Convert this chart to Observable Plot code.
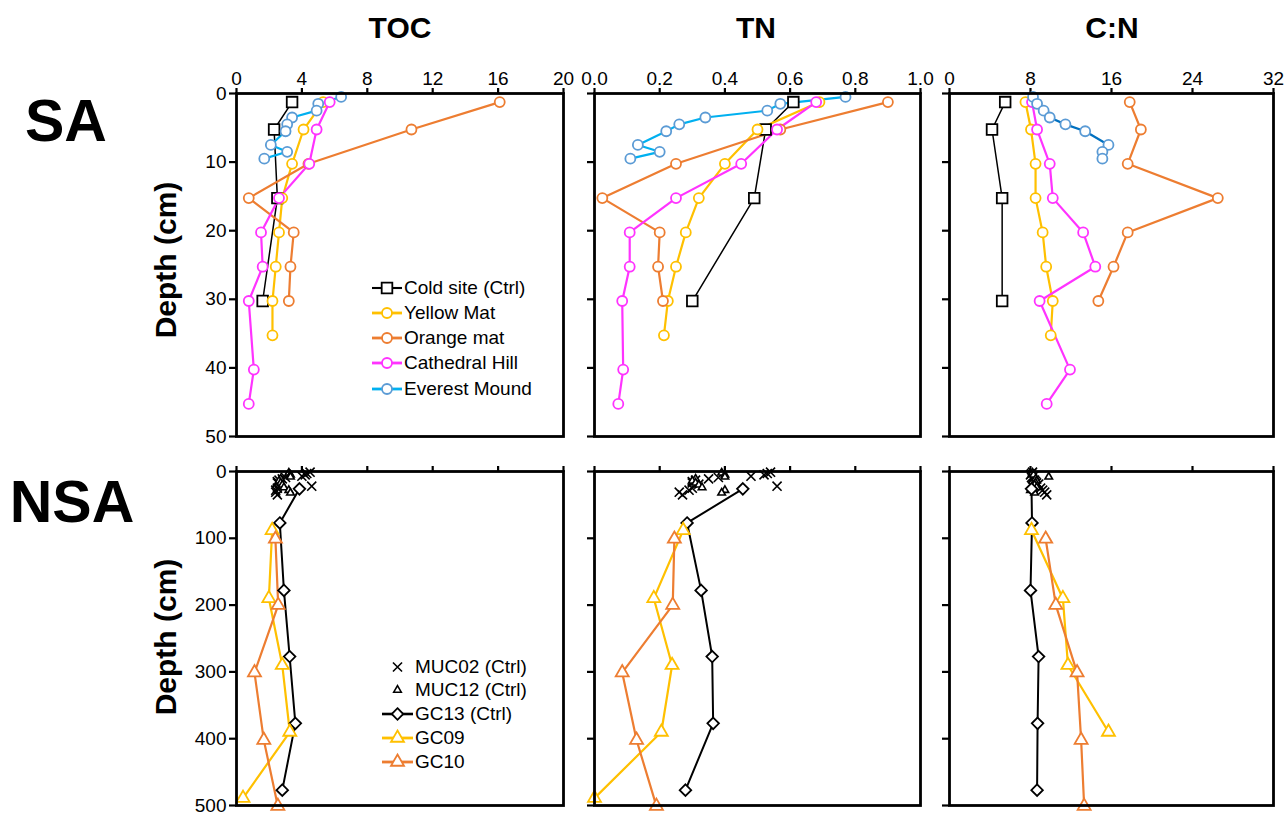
<!DOCTYPE html>
<html><head><meta charset="utf-8">
<script src="https://cdn.jsdelivr.net/npm/d3@7"></script>
<script src="https://cdn.jsdelivr.net/npm/@observablehq/plot@0.6"></script>
<style>
html,body{margin:0;padding:0;background:#fff;}
#root{position:relative;width:1284px;height:817px;overflow:hidden;font-family:"Liberation Sans",Arial,Helvetica,sans-serif;color:#000;}
.abs{position:absolute;white-space:nowrap;}
.head{font-weight:bold;font-size:30px;transform:translate(-50%,-50%);}
.rowlab{font-weight:bold;font-size:59px;transform:translate(-50%,-50%);}
.ylab{font-weight:bold;font-size:30px;transform:translate(-50%,-50%) rotate(-90deg);}
.leg{display:flex;align-items:center;font-size:19px;height:24px;}
.leg svg{display:block;}
</style></head>
<body><div id="root"></div>
<script>
// ---------- Column headings / scales ----------
const columns = ["TOC", "TN", "C:N"];
const tocTicks = [0, 4, 8, 12, 16, 20];
const tnTicks = [0, 0.2, 0.4, 0.6, 0.8, 1.0];
const cnTicks = [0, 8, 16, 24, 32];
const saDepthTicks = [0, 10, 20, 30, 40, 50];
const nsaDepthTicks = [0, 100, 200, 300, 400, 500];
const rowLabels = ["SA", "NSA"];

// ---------- SA (depth in cm) ----------
const saNames = ["Cold site (Ctrl)", "Yellow Mat", "Orange mat", "Cathedral Hill", "Everest Mound"];

const coldDepth = [1.25, 5.25, 15.25, 30.25];
const coldTOC = [3.4, 2.3, 2.5, 1.6];
const coldTN = [0.61, 0.525, 0.49, 0.30];
const coldCN = [5.5, 4.2, 5.2, 5.2];

const yellowDepth = [1.25, 5.25, 10.25, 15.25, 20.25, 25.25, 30.25, 35.25];
const yellowTOC = [5.3, 4.1, 3.4, 2.8, 2.6, 2.4, 2.2, 2.2];
const yellowTN = [0.69, 0.50, 0.40, 0.32, 0.28, 0.25, 0.225, 0.213];
const yellowCN = [7.5, 8.05, 8.5, 8.5, 9.2, 9.55, 10.2, 10.0];

const orangeDepth = [1.25, 5.25, 10.25, 15.25, 20.25, 25.25, 30.25];
const orangeTOC = [16.1, 10.7, 4.4, 0.75, 3.5, 3.3, 3.2];
const orangeTN = [0.90, 0.57, 0.25, 0.024, 0.20, 0.195, 0.21];
const orangeCN = [17.8, 18.9, 17.6, 26.5, 17.6, 16.2, 14.7];

const cathedralDepth = [1.25, 5.25, 10.25, 15.25, 20.25, 25.25, 30.25, 40.25, 45.25];
const cathedralTOC = [5.7, 4.9, 4.45, 2.6, 1.5, 1.6, 0.75, 1.06, 0.75];
const cathedralTN = [0.68, 0.56, 0.45, 0.25, 0.108, 0.108, 0.085, 0.088, 0.073];
const cathedralCN = [8.15, 8.65, 9.9, 10.2, 13.2, 14.4, 8.9, 11.9, 9.6];

const everestDepth = [0.5, 1.5, 2.5, 3.5, 4.5, 5.5, 7.5, 8.5, 9.5];
const everestTOC = [6.4, 5.0, 4.9, 3.4, 3.1, 3.0, 2.1, 3.1, 1.7];
const everestTN = [0.77, 0.57, 0.53, 0.34, 0.26, 0.22, 0.133, 0.20, 0.11];
const everestCN = [8.25, 8.65, 9.3, 9.9, 11.45, 13.4, 15.7, 15.1, 15.1];

// ---------- NSA (depth in cm) ----------
const nsaNames = ["MUC02 (Ctrl)", "MUC12 (Ctrl)", "GC13 (Ctrl)", "GC09", "GC10"];

const muc02Depth = [1, 3, 5, 7, 9, 11, 13, 15, 17, 19, 22, 25, 28, 31, 35];
const muc02TOC = [4.5, 4.3, 4.2, 4.0, 3.0, 2.8, 2.6, 2.5, 2.5, 2.6, 4.6, 2.5, 2.4, 2.4, 2.5];
const muc02TN = [0.54, 0.53, 0.52, 0.48, 0.38, 0.35, 0.31, 0.30, 0.30, 0.32, 0.56, 0.30, 0.29, 0.26, 0.27];
const muc02CN = [8.2, 8.1, 8.0, 8.3, 8.1, 8.2, 8.4, 8.5, 8.6, 8.8, 8.2, 9.0, 9.2, 9.4, 9.6];

const muc12Depth = [2, 5, 8, 11, 14, 17, 20, 24, 28, 32];
const muc12TOC = [3.2, 3.3, 3.3, 2.7, 2.6, 2.7, 2.8, 2.9, 3.2, 3.3];
const muc12TN = [0.39, 0.40, 0.40, 0.31, 0.30, 0.31, 0.32, 0.33, 0.40, 0.39];
const muc12CN = [8.2, 8.3, 9.8, 8.5, 8.6, 8.5, 8.4, 8.6, 8.0, 8.4];

const gc13Depth = [26, 77, 178, 277, 377, 477];
const gc13TOC = [3.85, 2.65, 2.9, 3.25, 3.6, 2.8];
const gc13TN = [0.455, 0.284, 0.327, 0.361, 0.364, 0.279];
const gc13CN = [8.1, 8.15, 8.0, 8.8, 8.7, 8.65];

const gc09Depth = [88, 190, 290, 390, 489];
const gc09TOC = [2.18, 1.98, 2.8, 3.26, 0.4];
const gc09TN = [0.272, 0.182, 0.238, 0.205, 0.0];
const gc09CN = [8.1, 11.2, 11.7, 15.7, null];

const gc10Depth = [101, 200, 301, 402, 501];
const gc10TOC = [2.38, 2.55, 1.1, 1.67, 2.53];
const gc10TN = [0.245, 0.24, 0.085, 0.129, 0.19];
const gc10CN = [9.5, 10.5, 12.6, 13.0, 13.3];

// ---------- series tables (built from the arrays above) ----------
const saSeries = [
  {name: saNames[0], depth: coldDepth, vals: [coldTOC, coldTN, coldCN], line: "#000", dot: "#000", symbol: "square", r: 6, lw: 1.5, sw: 1.8},
  {name: saNames[1], depth: yellowDepth, vals: [yellowTOC, yellowTN, yellowCN], line: "#FFC000", dot: "#FFC000", symbol: "circle", r: 5, lw: 2.2, sw: 1.8},
  {name: saNames[2], depth: orangeDepth, vals: [orangeTOC, orangeTN, orangeCN], line: "#ED7D31", dot: "#ED7D31", symbol: "circle", r: 5, lw: 2.2, sw: 1.8},
  {name: saNames[3], depth: cathedralDepth, vals: [cathedralTOC, cathedralTN, cathedralCN], line: "#FF33FF", dot: "#FF33FF", symbol: "circle", r: 5, lw: 2.2, sw: 1.8},
  {name: saNames[4], depth: everestDepth, vals: [everestTOC, everestTN, everestCN], line: "#00B0F0", lineCN: "#0070C0", dot: "#5B9BD5", symbol: "circle", r: 5, lw: 2.2, sw: 1.8}
];
const nsaSeries = [
  {name: nsaNames[0], depth: muc02Depth, vals: [muc02TOC, muc02TN, muc02CN], line: null, dot: "#000", symbol: "times", r: 4.2, sw: 1.6},
  {name: nsaNames[1], depth: muc12Depth, vals: [muc12TOC, muc12TN, muc12CN], line: null, dot: "#000", symbol: "triangle2", r: 3.6, sw: 1.6},
  {name: nsaNames[2], depth: gc13Depth, vals: [gc13TOC, gc13TN, gc13CN], line: "#000", dot: "#000", symbol: "diamond2", r: 5.2, lw: 2, sw: 1.8},
  {name: nsaNames[3], depth: gc09Depth, vals: [gc09TOC, gc09TN, gc09CN], line: "#FFC000", dot: "#FFC000", symbol: "triangle2", r: 6.2, lw: 2.2, sw: 1.8},
  {name: nsaNames[4], depth: gc10Depth, vals: [gc10TOC, gc10TN, gc10CN], line: "#ED7D31", dot: "#ED7D31", symbol: "triangle2", r: 6.2, lw: 2.2, sw: 1.8}
];

// ---------- layout ----------
const colX = [[236, 563], [594, 920], [949, 1273]];
const rowY = [[93, 436], [471, 805]];
const xDomains = [[0, 20], [0, 1], [0, 32]];
const xTickSets = [tocTicks, tnTicks, cnTicks];
const xFormats = [d3.format("d"), d3.format(".1f"), d3.format("d")];
const font = '"Liberation Sans", Arial, Helvetica, sans-serif';
const root = document.getElementById("root");

function rows(s, ci) {
  return s.depth.map((d, i) => ({depth: d, v: s.vals[ci][i]})).filter(r => r.v != null);
}

function panel(ri, ci) {
  const [x0, x1] = colX[ci], [y0, y1] = rowY[ri];
  const mL = 60, mR = 20, mT = 45, mB = 12;
  const series = ri === 0 ? saSeries : nsaSeries;
  const marks = [
    Plot.axisX({anchor: "top", ticks: xTickSets[ci], tickSize: 6, tickPadding: 3, strokeWidth: 2.2, fontSize: 19,
      tickFormat: ri === 0 ? xFormats[ci] : () => "", label: null}),
    Plot.axisY({anchor: "left", ticks: ri === 0 ? saDepthTicks : nsaDepthTicks, tickSize: 7, tickPadding: 3, strokeWidth: 2.2, fontSize: 19,
      tickFormat: ci === 0 ? d3.format("d") : () => "", label: null})
  ];
  for (const s of series) {
    const data = rows(s, ci);
    if (s.line) marks.push(Plot.line(data, {x: "v", y: "depth", stroke: (ci === 2 && s.lineCN) ? s.lineCN : s.line, strokeWidth: s.lw}));
  }
  for (const s of series) {
    const data = rows(s, ci);
    marks.push(Plot.dot(data, {x: "v", y: "depth", symbol: s.symbol, r: s.r, stroke: s.dot, fill: s.symbol === "times" ? "none" : "white", strokeWidth: s.sw}));
  }
  marks.push(Plot.frame({stroke: "#000", strokeWidth: 2.8}));
  const svg = Plot.plot({
    width: (x1 - x0) + mL + mR, height: (y1 - y0) + mT + mB,
    marginLeft: mL, marginRight: mR, marginTop: mT, marginBottom: mB,
    x: {domain: xDomains[ci], label: null},
    y: {domain: ri === 0 ? [0, 50] : [0, 500], reverse: true, label: null},
    style: {fontFamily: font, fontSize: "19px", color: "#000", background: "transparent", overflow: "visible", maxWidth: "none"},
    marks
  });
  svg.style.position = "absolute";
  svg.style.left = (x0 - mL) + "px";
  svg.style.top = (y0 - mT) + "px";
  root.appendChild(svg);
}

for (let ri = 0; ri < 2; ri++) for (let ci = 0; ci < 3; ci++) panel(ri, ci);

// ---------- texts ----------
function txt(cls, s, x, y) {
  const d = document.createElement("div");
  d.className = "abs " + cls;
  d.textContent = s;
  d.style.left = x + "px"; d.style.top = y + "px";
  root.appendChild(d);
}
const headX = [400, 756, 1112];
columns.forEach((c, i) => txt("head", c, headX[i], 28));
txt("rowlab", rowLabels[0], 66, 121);
txt("rowlab", rowLabels[1], 72, 502);
txt("ylab", "Depth (cm)", 166, 260);
txt("ylab", "Depth (cm)", 166, 637);

// ---------- legends ----------
const symTypes = {circle: d3.symbolCircle, square: d3.symbolSquare, diamond2: d3.symbolDiamond2, triangle2: d3.symbolTriangle2, times: d3.symbolTimes};
function legend(series, lineX0, lineX1, ys) {
  series.forEach((s, i) => {
    const row = document.createElement("div");
    row.className = "abs leg";
    row.style.left = lineX0 + "px";
    row.style.top = (ys[i] - 12) + "px";
    const w = lineX1 - lineX0 + 2;
    const svg = d3.create("svg").attr("width", w).attr("height", 24).style("overflow", "visible");
    const cx = w / 2;
    if (s.line) svg.append("line").attr("x1", 0).attr("x2", w).attr("y1", 12).attr("y2", 12)
      .attr("stroke", s.line).attr("stroke-width", s.lw + 0.6);
    svg.append("path").attr("transform", `translate(${cx},12)`)
      .attr("d", d3.symbol(symTypes[s.symbol], Math.PI * s.r * s.r)())
      .attr("fill", s.symbol === "times" ? "none" : "white").attr("stroke", s.dot).attr("stroke-width", s.sw);
    row.appendChild(svg.node());
    const sp = document.createElement("span");
    sp.textContent = s.name;
    sp.style.marginLeft = "2px";
    row.appendChild(sp);
    root.appendChild(row);
  });
}
legend(saSeries, 372, 400, [288, 313, 338, 363, 389]);
legend(nsaSeries, 382, 411, [667, 690, 714, 738, 762]);
</script>
</body></html>
